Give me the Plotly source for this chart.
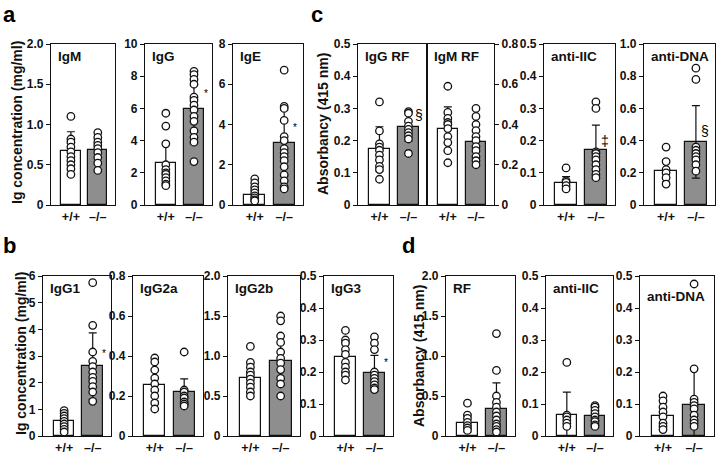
import plotly.graph_objects as go

W, H = 720, 455
GROUPS = ["+/+", "\u2013/\u2013"]

# ---------------- panel a ----------------
IGM_WT = [1.10, 0.82, 0.78, 0.72, 0.66, 0.60, 0.55, 0.50, 0.45, 0.38]
IGM_KO = [0.90, 0.84, 0.78, 0.74, 0.70, 0.65, 0.59, 0.52, 0.43]
IGM_MEAN = [0.67, 0.68]
IGM_SD = [0.24, 0.14]
IGM_TICKS = [0, 0.5, 1.0, 1.5, 2.0]
IGM_LABELS = ["0", "0.5", "1.0", "1.5", "2.0"]

IGG_WT = [5.7, 4.9, 3.8, 2.5, 2.2, 2.0, 1.9, 1.7, 1.5, 1.3, 1.2]
IGG_KO = [8.3, 8.1, 7.8, 7.5, 6.7, 6.5, 6.2, 5.9, 5.5, 5.2, 4.6, 4.2, 3.9, 2.7]
IGG_MEAN = [2.62, 5.96]
IGG_SD = [1.28, 1.65]
IGG_TICKS = [0, 2, 4, 6, 8, 10]
IGG_LABELS = ["0", "2", "4", "6", "8", "10"]

IGE_WT = [1.3, 1.1, 0.9, 0.75, 0.6, 0.45, 0.35, 0.25, 0.2]
IGE_KO = [6.7, 4.9, 4.8, 4.2, 3.4, 3.2, 2.8, 2.6, 2.4, 2.2, 1.9, 1.5, 1.2, 0.9, 0.8]
IGE_MEAN = [0.52, 3.07]
IGE_SD = [0.35, 1.65]
IGE_TICKS = [0, 2, 4, 6, 8]
IGE_LABELS = ["0", "2", "4", "6", "8"]

# ---------------- panel c ----------------
IGGRF_WT = [0.32, 0.23, 0.19, 0.18, 0.17, 0.155, 0.14, 0.12, 0.11, 0.08]
IGGRF_KO = [0.29, 0.285, 0.26, 0.245, 0.235, 0.225, 0.215, 0.205, 0.16]
IGGRF_MEAN = [0.174, 0.243]
IGGRF_SD = [0.069, 0.045]
IGGRF_TICKS = [0, 0.1, 0.2, 0.3, 0.4, 0.5]
IGGRF_LABELS = ["0", "0.1", "0.2", "0.3", "0.4", "0.5"]

IGMRF_WT = [0.59, 0.46, 0.43, 0.41, 0.40, 0.38, 0.34, 0.31, 0.27, 0.21]
IGMRF_KO = [0.48, 0.44, 0.40, 0.37, 0.34, 0.32, 0.29, 0.27, 0.24, 0.22, 0.20]
IGMRF_MEAN = [0.378, 0.315]
IGMRF_SD = [0.11, 0.085]
IGMRF_TICKS = [0, 0.2, 0.4, 0.6, 0.8]
IGMRF_LABELS = ["0", "0.2", "0.4", "0.6", "0.8"]

IICC_WT = [0.115, 0.075, 0.07, 0.06, 0.05]
IICC_KO = [0.32, 0.30, 0.165, 0.16, 0.15, 0.14, 0.125, 0.11, 0.095, 0.085]
IICC_MEAN = [0.068, 0.170]
IICC_SD = [0.02, 0.078]
IICC_TICKS = [0, 0.1, 0.2, 0.3, 0.4, 0.5]
IICC_LABELS = ["0", "0.1", "0.2", "0.3", "0.4", "0.5"]

DNAC_WT = [0.36, 0.27, 0.22, 0.20, 0.17, 0.13]
DNAC_KO = [0.85, 0.78, 0.36, 0.34, 0.32, 0.30, 0.28, 0.25, 0.21]
DNAC_MEAN = [0.212, 0.392]
DNAC_SD = [0.068, 0.225]
DNAC_TICKS = [0, 0.2, 0.4, 0.6, 0.8, 1.0]
DNAC_LABELS = ["0", "0.2", "0.4", "0.6", "0.8", "1.0"]

# ---------------- panel b ----------------
IGG1_WT = [0.95, 0.85, 0.75, 0.65, 0.55, 0.45, 0.35, 0.25, 0.15]
IGG1_KO = [5.75, 4.15, 3.15, 2.8, 2.6, 2.4, 2.2, 2.05, 1.85, 1.65, 1.3]
IGG1_MEAN = [0.55, 2.62]
IGG1_SD = [0.25, 1.25]
IGG1_TICKS = [0, 1, 2, 3, 4, 5, 6]
IGG1_LABELS = ["0", "1", "2", "3", "4", "5", "6"]

IGG2A_WT = [0.39, 0.37, 0.33, 0.29, 0.26, 0.23, 0.20, 0.165, 0.135]
IGG2A_KO = [0.42, 0.23, 0.22, 0.20, 0.19, 0.17, 0.16, 0.15]
IGG2A_MEAN = [0.255, 0.218]
IGG2A_SD = [0.08, 0.068]
IGG2A_TICKS = [0, 0.2, 0.4, 0.6, 0.8]
IGG2A_LABELS = ["0", "0.2", "0.4", "0.6", "0.8"]

IGG2B_WT = [1.12, 0.92, 0.86, 0.80, 0.76, 0.71, 0.66, 0.61, 0.55, 0.50]
IGG2B_KO = [1.50, 1.44, 1.25, 1.17, 1.05, 0.97, 0.91, 0.83, 0.72, 0.65, 0.50]
IGG2B_MEAN = [0.72, 0.94]
IGG2B_SD = [0.18, 0.31]
IGG2B_TICKS = [0, 0.5, 1.0, 1.5, 2.0]
IGG2B_LABELS = ["0", "0.5", "1.0", "1.5", "2.0"]

IGG3_WT = [0.33, 0.30, 0.29, 0.27, 0.255, 0.23, 0.215, 0.20, 0.19, 0.175]
IGG3_KO = [0.31, 0.29, 0.27, 0.20, 0.19, 0.18, 0.17, 0.16, 0.15, 0.145]
IGG3_MEAN = [0.247, 0.197]
IGG3_SD = [0.045, 0.055]
IGG3_TICKS = [0, 0.1, 0.2, 0.3, 0.4, 0.5]
IGG3_LABELS = ["0", "0.1", "0.2", "0.3", "0.4", "0.5"]

# ---------------- panel d ----------------
RF_WT = [0.41, 0.26, 0.22, 0.17, 0.13, 0.10, 0.07]
RF_KO = [1.28, 0.82, 0.50, 0.42, 0.36, 0.30, 0.25, 0.20, 0.15, 0.12, 0.08, 0.05]
RF_MEAN = [0.16, 0.335]
RF_SD = [0.11, 0.33]
RF_TICKS = [0, 0.5, 1.0, 1.5, 2.0]
RF_LABELS = ["0", "0.5", "1.0", "1.5", "2.0"]

IICD_WT = [0.23, 0.065, 0.06, 0.05, 0.04, 0.03]
IICD_KO = [0.095, 0.09, 0.08, 0.07, 0.06, 0.05, 0.045, 0.035, 0.03]
IICD_MEAN = [0.066, 0.061]
IICD_SD = [0.071, 0.02]
IICD_TICKS = [0, 0.1, 0.2, 0.3, 0.4, 0.5]
IICD_LABELS = ["0", "0.1", "0.2", "0.3", "0.4", "0.5"]

DNAD_WT = [0.125, 0.11, 0.09, 0.075, 0.06, 0.04, 0.03, 0.02]
DNAD_KO = [0.475, 0.21, 0.115, 0.105, 0.095, 0.085, 0.065, 0.05, 0.04, 0.03]
DNAD_MEAN = [0.064, 0.098]
DNAD_SD = [0.04, 0.112]
DNAD_TICKS = [0, 0.1, 0.2, 0.3, 0.4, 0.5]
DNAD_LABELS = ["0", "0.1", "0.2", "0.3", "0.4", "0.5"]

# ---------------- layout specs (pixels) ----------------
ROW1 = (44, 205)
ROW2 = (276, 436)

panels = [
    dict(title="IgM", px=(51, 115), py=ROW1, ymax=2.0, tv=IGM_TICKS, tt=IGM_LABELS,
         mean=IGM_MEAN, sd=IGM_SD, wt=IGM_WT, ko=IGM_KO),
    dict(title="IgG", px=(145, 212), py=ROW1, ymax=10, tv=IGG_TICKS, tt=IGG_LABELS,
         mean=IGG_MEAN, sd=IGG_SD, wt=IGG_WT, ko=IGG_KO, mark=("*", 1.42, 6.9, 10)),
    dict(title="IgE", px=(233, 303), py=ROW1, ymax=8, tv=IGE_TICKS, tt=IGE_LABELS,
         mean=IGE_MEAN, sd=IGE_SD, wt=IGE_WT, ko=IGE_KO, mark=("*", 1.38, 3.85, 10)),
    dict(title="IgG RF", px=(358, 427), py=ROW1, ymax=0.5, tv=IGGRF_TICKS, tt=IGGRF_LABELS,
         mean=IGGRF_MEAN, sd=IGGRF_SD, wt=IGGRF_WT, ko=IGGRF_KO, mark=("§", 1.36, 0.28, 14)),
    dict(title="IgM RF", px=(427, 494), py=ROW1, ymax=0.8, tv=IGMRF_TICKS, tt=IGMRF_LABELS,
         mean=IGMRF_MEAN, sd=IGMRF_SD, wt=IGMRF_WT, ko=IGMRF_KO, side="right"),
    dict(title="anti-IIC", px=(544, 615), py=ROW1, ymax=0.5, tv=IICC_TICKS, tt=IICC_LABELS,
         mean=IICC_MEAN, sd=IICC_SD, wt=IICC_WT, ko=IICC_KO, mark=("‡", 1.3, 0.2, 14)),
    dict(title="anti-DNA", px=(644, 715), py=ROW1, ymax=1.0, tv=DNAC_TICKS, tt=DNAC_LABELS,
         mean=DNAC_MEAN, sd=DNAC_SD, wt=DNAC_WT, ko=DNAC_KO, mark=("§", 1.3, 0.46, 14)),
    dict(title="IgG1", px=(43, 111), py=ROW2, ymax=6, tv=IGG1_TICKS, tt=IGG1_LABELS,
         mean=IGG1_MEAN, sd=IGG1_SD, wt=IGG1_WT, ko=IGG1_KO, mark=("*", 1.38, 3.1, 10)),
    dict(title="IgG2a", px=(133, 203), py=ROW2, ymax=0.8, tv=IGG2A_TICKS, tt=IGG2A_LABELS,
         mean=IGG2A_MEAN, sd=IGG2A_SD, wt=IGG2A_WT, ko=IGG2A_KO),
    dict(title="IgG2b", px=(228, 300), py=ROW2, ymax=2.0, tv=IGG2B_TICKS, tt=IGG2B_LABELS,
         mean=IGG2B_MEAN, sd=IGG2B_SD, wt=IGG2B_WT, ko=IGG2B_KO),
    dict(title="IgG3", px=(324, 393), py=ROW2, ymax=0.5, tv=IGG3_TICKS, tt=IGG3_LABELS,
         mean=IGG3_MEAN, sd=IGG3_SD, wt=IGG3_WT, ko=IGG3_KO, mark=("*", 1.4, 0.23, 10)),
    dict(title="RF", px=(446, 515), py=ROW2, ymax=2.0, tv=RF_TICKS, tt=RF_LABELS,
         mean=RF_MEAN, sd=RF_SD, wt=RF_WT, ko=RF_KO),
    dict(title="anti-IIC", px=(546, 613), py=ROW2, ymax=0.5, tv=IICD_TICKS, tt=IICD_LABELS,
         mean=IICD_MEAN, sd=IICD_SD, wt=IICD_WT, ko=IICD_KO),
    dict(title="anti-DNA", px=(640, 714), py=ROW2, ymax=0.5, tv=DNAD_TICKS, tt=DNAD_LABELS,
         mean=DNAD_MEAN, sd=DNAD_SD, wt=DNAD_WT, ko=DNAD_KO, title_dy=8),
]

FONT = "Liberation Sans, Arial, Helvetica, sans-serif"
INK = "#111111"
GRAY = "#8e8e8e"
XRANGE = [-0.74, 1.64]
BAR_W = 0.72

fig = go.Figure()
layout = {}
annotations = []

for i, p in enumerate(panels, start=1):
    xa = "x" if i == 1 else f"x{i}"
    ya = "y" if i == 1 else f"y{i}"
    xkey = "xaxis" if i == 1 else f"xaxis{i}"
    ykey = "yaxis" if i == 1 else f"yaxis{i}"
    x0, x1 = p["px"]
    y0, y1 = p["py"]

    fig.add_trace(go.Bar(
        x=[0, 1], y=p["mean"], width=BAR_W,
        marker=dict(color=["white", GRAY], line=dict(color=INK, width=1.2)),
        error_y=dict(type="data", array=p["sd"], visible=True, color=INK,
                     thickness=1.2, width=4),
        xaxis=xa, yaxis=ya, showlegend=False, hoverinfo="skip"))
    fig.add_trace(go.Scatter(
        x=[0] * len(p["wt"]) + [1] * len(p["ko"]), y=p["wt"] + p["ko"],
        mode="markers",
        marker=dict(symbol="circle", size=7.5, color="white",
                    line=dict(color=INK, width=1.3)),
        xaxis=xa, yaxis=ya, showlegend=False, hoverinfo="skip", cliponaxis=False))

    layout[xkey] = dict(
        domain=[x0 / W, x1 / W], range=XRANGE, anchor=ya, automargin=False,
        tickmode="array", tickvals=[0, 1], ticktext=GROUPS, ticks="",
        showline=True, mirror=True, linecolor=INK, linewidth=1.2,
        showgrid=False, zeroline=False, fixedrange=True,
        tickfont=dict(family=FONT, size=12.5, color=INK, weight="bold"))
    layout[ykey] = dict(
        domain=[1 - y1 / H, 1 - y0 / H], range=[0, p["ymax"]], anchor=xa,
        automargin=False, side=p.get("side", "left"),
        tickmode="array", tickvals=p["tv"], ticktext=p["tt"],
        ticks="outside", ticklen=4, tickwidth=1.2, tickcolor=INK,
        showline=True, mirror=True, linecolor=INK, linewidth=1.2,
        showgrid=False, zeroline=False, fixedrange=True,
        tickfont=dict(family=FONT, size=12, color=INK, weight="bold"))

    annotations.append(dict(
        text=p["title"], xref="paper", yref="paper",
        x=(x0 + 5) / W, y=1 - (y0 + 12 + p.get("title_dy", 0)) / H,
        xanchor="left", yanchor="middle", showarrow=False,
        font=dict(family=FONT, size=13.5, color=INK, weight="bold")))

    if "mark" in p:
        sym, mx, my, ms = p["mark"]
        annotations.append(dict(
            text=sym, xref=xa, yref=ya, x=mx, y=my, xanchor="center",
            yanchor="middle", showarrow=False,
            font=dict(family=FONT, size=ms, color="black")))

# axis titles
for txt, px, py in [("Ig concentration (mg/ml)", 17, 123),
                    ("Absorbancy (415 nm)", 323, 124),
                    ("Ig concentration (mg/ml)", 21, 354),
                    ("Absorbancy (415 nm)", 419, 356)]:
    annotations.append(dict(
        text=txt, xref="paper", yref="paper", x=px / W, y=1 - py / H,
        xanchor="center", yanchor="middle", textangle=-90, showarrow=False,
        font=dict(family=FONT, size=14, color=INK, weight="bold")))

# panel letters
for txt, px, py in [("a", 9, 14), ("c", 317, 14), ("b", 9, 246), ("d", 408, 246)]:
    annotations.append(dict(
        text=txt, xref="paper", yref="paper", x=px / W, y=1 - py / H,
        xanchor="center", yanchor="middle", showarrow=False,
        font=dict(family=FONT, size=22, color="black", weight="bold")))

fig.update_layout(
    width=W, height=H, autosize=False,
    margin=dict(l=0, r=0, t=0, b=0),
    paper_bgcolor="white", plot_bgcolor="white",
    bargap=0, annotations=annotations, **layout)

fig.write_html("out.html", config={"displayModeBar": False},
               post_script="document.body.style.margin='0';document.body.style.overflow='hidden';")
